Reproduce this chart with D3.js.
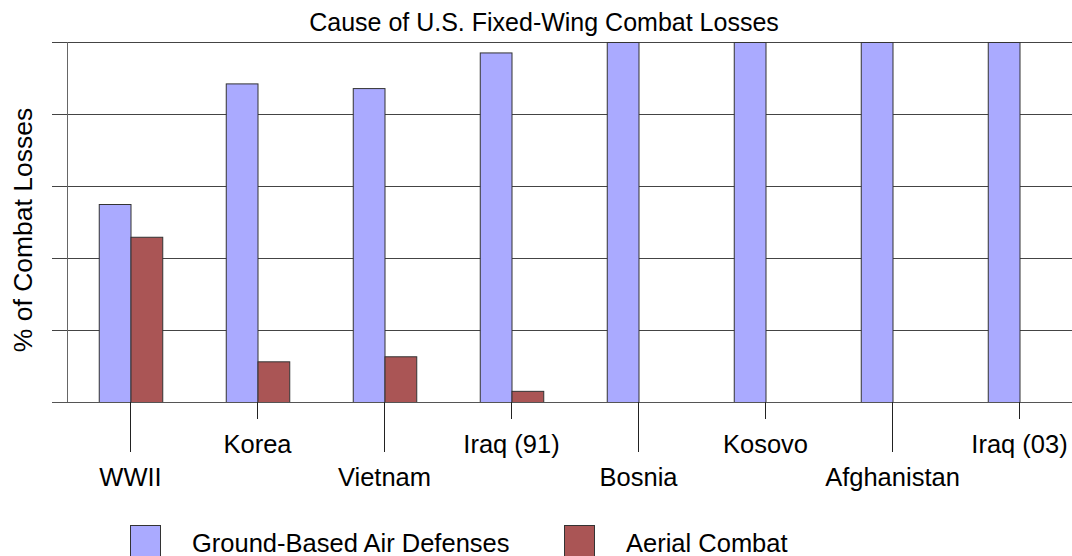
<!DOCTYPE html>
<html>
<head>
<meta charset="utf-8">
<script src="https://cdn.jsdelivr.net/npm/d3@7"></script>
<style>
  body { margin: 0; background: #fff; }
  svg { display: block; font-family: "Liberation Sans", Arial, sans-serif; }
</style>
</head>
<body>
<svg id="chart" width="1072" height="556"></svg>
<script>
// values (% of combat losses)
var categories = ["WWII", "Korea", "Vietnam", "Iraq (91)", "Bosnia", "Kosovo", "Afghanistan", "Iraq (03)"];
var groundBased = [55, 88.5, 87.2, 97.1, 100, 100, 100, 100];
var aerialCombat = [45.9, 11.3, 12.7, 3.1, 0, 0, 0, 0];
var seriesNames = ["Ground-Based Air Defenses", "Aerial Combat"];
var seriesColors = ["#aaaaff", "#aa5555"];
var yTicks = [0, 20, 40, 60, 80, 100];

function drawChart() {
    var svg = d3.select("#chart");

    var plotLeft = 67, plotRight = 1083, plotTop = 42, plotBottom = 402;

    var x = d3.scaleBand()
        .domain(categories)
        .range([plotLeft, plotRight])
        .paddingInner(0.5)
        .paddingOuter(0.25);

    var xs = d3.scaleBand()
        .domain([0, 1])
        .range([0, x.bandwidth()]);

    var y = d3.scaleLinear()
        .domain([0, 100])
        .range([plotBottom, plotTop]);

    // horizontal grid lines
    svg.append("g")
        .selectAll("line")
        .data(yTicks)
        .enter()
        .append("line")
        .attr("x1", plotLeft - 15)
        .attr("x2", 1072)
        .attr("y1", function(d) { return Math.round(y(d)) + 0.5; })
        .attr("y2", function(d) { return Math.round(y(d)) + 0.5; })
        .style("stroke", "#444")
        .style("stroke-width", 1);

    // y axis line
    svg.append("line")
        .attr("x1", plotLeft + 0.5).attr("x2", plotLeft + 0.5)
        .attr("y1", y(100)).attr("y2", y(0))
        .style("stroke", "#666")
        .style("stroke-width", 1);

    var rows = categories.map(function(c, i) {
        return { cat: c, i: i, vals: [groundBased[i], aerialCombat[i]] };
    });

    var group = svg.append("g")
        .selectAll("g")
        .data(rows)
        .enter()
        .append("g")
        .attr("transform", function(d) { return "translate(" + x(d.cat) + ",0)"; });

    group.selectAll("rect")
        .data(function(d) {
            return d.vals.map(function(v, k) { return { v: v, k: k }; })
                .filter(function(e) { return e.v > 0; });
        })
        .enter()
        .append("rect")
        .attr("x", function(d) { return xs(d.k) + 0.5; })
        .attr("y", function(d) { return y(d.v) + 0.5; })
        .attr("width", xs.bandwidth())
        .attr("height", function(d) { return y(0) - y(d.v); })
        .style("fill", function(d) { return seriesColors[d.k]; })
        .style("stroke", "#333")
        .style("stroke-width", 1);

    // baseline over the bars
    svg.append("line")
        .attr("x1", plotLeft - 15).attr("x2", 1072)
        .attr("y1", y(0) + 0.5).attr("y2", y(0) + 0.5)
        .style("stroke", "#555");

    // category ticks and staggered labels
    var ticks = svg.append("g")
        .selectAll("g")
        .data(rows)
        .enter()
        .append("g")
        .attr("transform", function(d) {
            return "translate(" + (Math.round(x(d.cat) + x.bandwidth() / 2) - 0.5) + ",0)";
        });

    ticks.append("line")
        .attr("y1", y(0))
        .attr("y2", function(d) { return d.i % 2 ? 419 : 452; })
        .style("stroke", "#222");

    ticks.append("text")
        .attr("y", function(d) { return d.i % 2 ? 453 : 486; })
        .attr("text-anchor", "middle")
        .style("font-size", "25.5px")
        .text(function(d) { return d.cat; });

    // title
    svg.append("text")
        .attr("x", 544)
        .attr("y", 31)
        .attr("text-anchor", "middle")
        .style("font-size", "25px")
        .text("Cause of U.S. Fixed-Wing Combat Losses");

    // y label
    svg.append("text")
        .attr("transform", "translate(32,230) rotate(-90)")
        .attr("text-anchor", "middle")
        .style("font-size", "26.5px")
        .text("% of Combat Losses");

    // legend
    var legendX = [130, 564];
    var legend = svg.append("g")
        .selectAll("g")
        .data(seriesNames)
        .enter()
        .append("g")
        .attr("transform", function(d, i) { return "translate(" + legendX[i] + ",525)"; });

    legend.append("rect")
        .attr("x", 0.5).attr("y", 0.5)
        .attr("width", 30).attr("height", 40)
        .style("fill", function(d, i) { return seriesColors[i]; })
        .style("stroke", "#333");

    legend.append("text")
        .attr("x", 62)
        .attr("y", 27)
        .style("font-size", "25.5px")
        .text(function(d) { return d; });
}

drawChart();
</script>
</body>
</html>
